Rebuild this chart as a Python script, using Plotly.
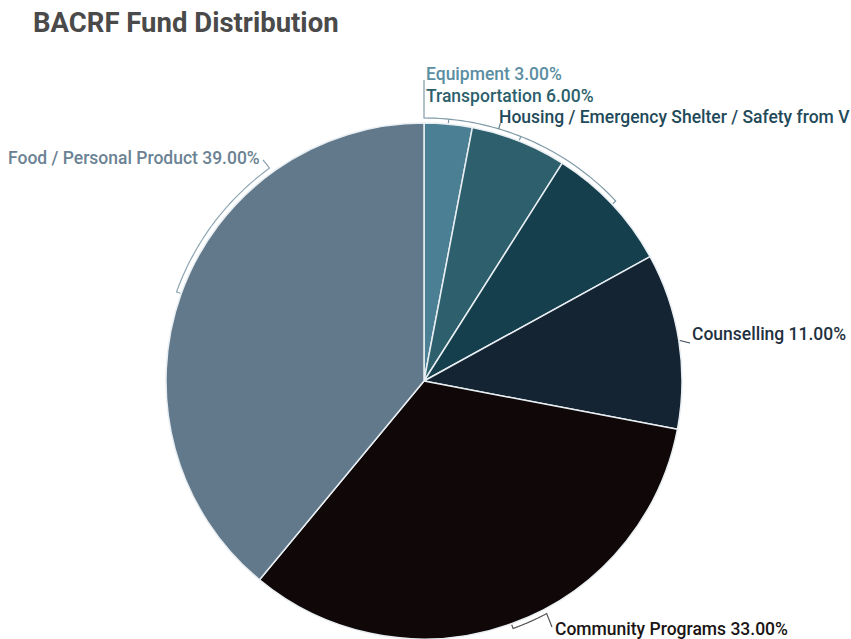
import math
import plotly.graph_objects as go

categories = ["Equipment", "Transportation", "Housing / Emergency Shelter / Safety from Violence",
              "Counselling", "Community Programs", "Food / Personal Product"]
values = [3, 6, 8, 11, 33, 39]
label_texts = ["Equipment 3.00%", "Transportation 6.00%", "Housing / Emergency Shelter / Safety from V",
               "Counselling 11.00%", "Community Programs 33.00%", "Food / Personal Product 39.00%"]
colors = ["#4b7f93", "#2d5f6c", "#163f4e", "#142433", "#100808", "#62798b"]

W, H = 851, 639
CX, CY, R = 424, 381, 258

def px(x, y):
    return x / W, 1 - y / H

def pt(theta, r):
    t = math.radians(theta)
    return CX + r * math.sin(t), CY - r * math.cos(t)

total = sum(values)
mids = []
acc = 0
for v in values:
    mids.append((acc + v / 2) / total * 360)
    acc += v

x0, y1 = px(CX - R, CY - R)
x1, y0 = px(CX + R, CY + R)
fig = go.Figure(go.Pie(
    labels=categories, values=values, sort=False, direction="clockwise", rotation=0,
    marker=dict(colors=colors, line=dict(color="#e8eef2", width=1.5)),
    textinfo="none", hoverinfo="label+percent", showlegend=False,
    domain=dict(x=[x0, x1], y=[max(y0, 0), y1]),
))

shapes = []
def path_from(points):
    s = ""
    for i, (x, y) in enumerate(points):
        fx, fy = px(x, y)
        s += ("M" if i == 0 else "L") + f"{fx:.5f},{fy:.5f} "
    return s

def arc(a0, a1, r, n=40):
    return [pt(a0 + (a1 - a0) * k / n, r) for k in range(n + 1)]

BR = R + 5

def add(points, col):
    shapes.append(dict(type="path", path=path_from(points), xref="paper", yref="paper",
                       line=dict(color=col, width=1.2)))

# Top bracket (Equipment, Transportation, Housing)
add([(CX, 80), (CX, CY - BR)] + arc(0, mids[2], BR) + [pt(mids[2], R + 1)], "#7f9aa8")
add([pt(mids[0], BR), pt(mids[0], R + 1)], "#7f9aa8")
add([pt(mids[1], BR), pt(mids[1], R + 1)], "#7f9aa8")
hx, hy = pt(16.5, BR + 6)
add([pt(16.5, BR), (hx, hy)], "#5f7f8c")

# Counselling leader
add([pt(mids[3], R + 1), (690, 343)], "#3a4a58")

# Community bracket
add([pt(mids[4], R + 1)] + arc(mids[4], mids[4] - 8, BR) + [(552, 627)], "#555555")

# Food bracket
add([pt(mids[5], R + 1)] + arc(mids[5], 324, BR) + [pt(324, BR + 4), (263, 160)], "#8fa6b4")

text_cols = ["#5a8ea2", "#2d5f6c", "#1f4a5a", "#1f3140", "#1a1414", "#6b8294"]
label_pos = [(424, 74, "left"), (424, 96, "left"), (497, 117, "left"),
             (690, 334, "left"), (553, 629, "left"), (262, 158, "right")]

annotations = []
for txt, col, (x, y, al) in zip(label_texts, text_cols, label_pos):
    fx, fy = px(x, y)
    annotations.append(dict(text=txt, x=fx, y=fy, xref="paper", yref="paper",
                            xanchor=al, yanchor="middle", showarrow=False,
                            font=dict(family="Roboto", size=17.5, color=col, weight=500)))

tx, ty = px(31, 23)
annotations.append(dict(text="<b>BACRF Fund Distribution</b>", x=tx, y=ty,
                        xref="paper", yref="paper", xanchor="left", yanchor="middle",
                        showarrow=False, font=dict(family="Roboto", size=27.5, color="#4a4a4a")))

fig.update_layout(width=W, height=H, margin=dict(l=0, r=0, t=0, b=0),
                  paper_bgcolor="white", plot_bgcolor="white",
                  shapes=shapes, annotations=annotations)

fig.write_html("out.html", config={"displayModeBar": False},
               post_script="document.body.style.margin='0';document.body.style.overflow='hidden';")
